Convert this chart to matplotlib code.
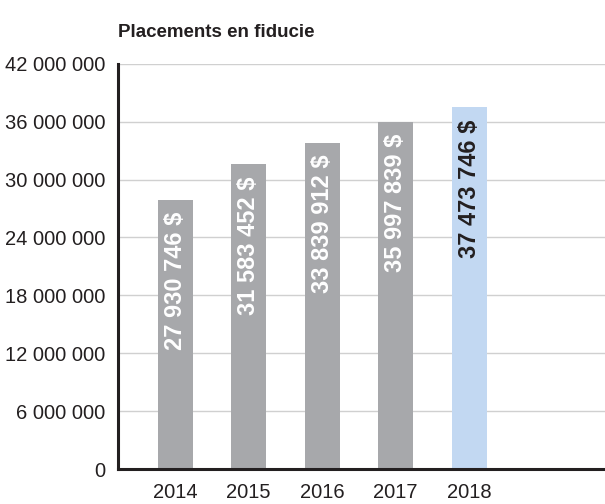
import matplotlib.pyplot as plt
from matplotlib.ticker import FuncFormatter

years = ["2014", "2015", "2016", "2017", "2018"]
values = [27930746, 31583452, 33839912, 35997839, 37473746]
colors = ["#a7a8ab", "#a7a8ab", "#a7a8ab", "#a7a8ab", "#c2d8f2"]
label_colors = ["white", "white", "white", "white", "#231f20"]
yticks = [0, 6000000, 12000000, 18000000, 24000000, 30000000, 36000000, 42000000]


def fmt_space(v):
    return f"{int(v):,}".replace(",", " ")


fig = plt.figure(figsize=(6.05, 5.04), dpi=100)
ax = fig.add_axes([0.195, 0.0694, 0.805, 0.804])

x = list(range(len(years)))
ax.bar(x, values, width=0.475, color=colors, zorder=2)

# value labels, rotated inside the top of each bar
for xi, v, lc in zip(x, values, label_colors):
    ax.annotate(fmt_space(v) + " $", (xi, v), xytext=(0, -8.5), textcoords="offset points",
                rotation=90, ha="center", va="top", color=lc,
                fontsize=17, fontweight="bold", family="Liberation Sans")

ax.set_xlim(-0.78, 5.85)
ax.set_ylim(0, 42000000)
ax.set_yticks(yticks)
ax.yaxis.set_major_formatter(FuncFormatter(lambda v, p: fmt_space(v)))
ax.set_xticks(x)
ax.set_xticklabels(years)
ax.grid(axis="y", color="#d0d0d0", linewidth=1, zorder=0)
ax.tick_params(axis="y", length=0, labelsize=14.5, labelcolor="#231f20", pad=9)
ax.tick_params(axis="x", length=0, labelsize=14.5, labelcolor="#231f20", pad=10)
for lbl in ax.get_xticklabels() + ax.get_yticklabels():
    lbl.set_family("Liberation Sans")

for s in ["top", "right"]:
    ax.spines[s].set_visible(False)
for s in ["left", "bottom"]:
    ax.spines[s].set_linewidth(2.2)
    ax.spines[s].set_color("#231f20")
    ax.spines[s].set_zorder(3)

fig.text(0.195, 0.935, "Placements en fiducie", fontsize=13.5, fontweight="bold",
         color="#231f20", ha="left", va="center", family="Liberation Sans")

fig.savefig("out.png", dpi=100)
